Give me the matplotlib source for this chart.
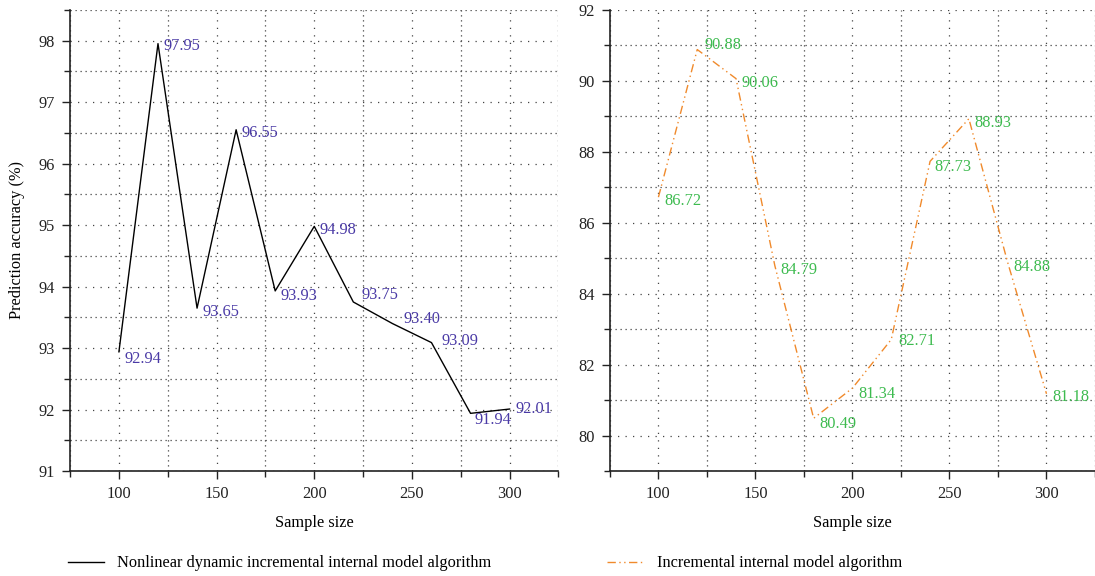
import matplotlib.pyplot as plt
from matplotlib.ticker import MultipleLocator

# data
sample_size = [100, 120, 140, 160, 180, 200, 220, 240, 260, 280, 300]
nonlinear_acc = [92.94, 97.95, 93.65, 96.55, 93.93, 94.98, 93.75, 93.40, 93.09, 91.94, 92.01]
incremental_acc = [86.72, 90.88, 90.06, 84.79, 80.49, 81.34, 82.71, 87.73, 88.93, 84.88, 81.18]

plt.rcParams['font.family'] = ['Liberation Serif', 'DejaVu Serif']
FS = 11.8

fig = plt.figure(figsize=(10.95, 5.76), dpi=100)
ax1 = fig.add_axes([0.064, 0.182, 0.446, 0.801])
ax2 = fig.add_axes([0.557, 0.182, 0.443, 0.801])


def style_axis(ax, ymin, ymax, ymajor, yminor):
    ax.set_xlim(75, 325)
    ax.set_ylim(ymin, ymax)
    ax.xaxis.set_major_locator(MultipleLocator(50))
    ax.xaxis.set_minor_locator(MultipleLocator(25))
    ax.yaxis.set_major_locator(MultipleLocator(ymajor))
    ax.yaxis.set_minor_locator(MultipleLocator(yminor))
    ax.spines['top'].set_visible(False)
    ax.spines['right'].set_visible(False)
    for s in ['left', 'bottom']:
        ax.spines[s].set_linewidth(1.2)
        ax.spines[s].set_color('#222222')
    ax.tick_params(which='major', direction='out', length=6, width=1, colors='#222222',
                   labelsize=FS, pad=5)
    ax.tick_params(which='minor', direction='out', length=4, width=1, colors='#222222')
    ax.grid(which='major', color='#444444', linestyle=(0, (1, 5)), linewidth=0.9)
    ax.grid(which='minor', color='#444444', linestyle=(0, (1, 3)), linewidth=0.9)
    ax.set_axisbelow(True)
    ax.set_xlabel('Sample size', fontsize=FS, labelpad=9)


# left panel
style_axis(ax1, 91, 98.5, 1, 0.5)
ax1.plot(sample_size, nonlinear_acc, color='black', linewidth=1,
         label='Nonlinear dynamic incremental internal model algorithm')
ax1.set_ylabel('Prediction accuracy (%)', fontsize=FS, labelpad=10)
offs1 = [(4, -5), (4, -2), (4, -3), (4, -2), (4, -4), (4, -3), (6, 5), (8, 3), (7, 1), (3, -5), (4, 0)]
for x, y, o in zip(sample_size, nonlinear_acc, offs1):
    ax1.annotate(f'{y:.2f}', (x, y), xytext=o, textcoords='offset points',
                 color='#4a3aa6', va='center', ha='left', fontsize=FS)
ax1.legend(loc='center left', bbox_to_anchor=(-0.005, -0.2), frameon=False,
           borderaxespad=0, borderpad=0, handlelength=2.2, handletextpad=0.8, fontsize=FS)

# right panel
style_axis(ax2, 79, 92, 2, 1)
ax2.plot(sample_size, incremental_acc, color='#f08a2c', linewidth=1,
         dashes=(6, 2.5, 1, 2.5, 1, 2.5), label='Incremental internal model algorithm')
offs2 = [(4, -3), (5, 3), (4, -3), (4, -3), (4, -4), (4, -4), (5, -1), (3, -4), (4, -3), (4, -3), (4, -2)]
for x, y, o in zip(sample_size, incremental_acc, offs2):
    ax2.annotate(f'{y:.2f}', (x, y), xytext=o, textcoords='offset points',
                 color='#3dbb4f', va='center', ha='left', fontsize=FS)
ax2.legend(loc='center left', bbox_to_anchor=(-0.005, -0.2), frameon=False,
           borderaxespad=0, borderpad=0, handlelength=2.2, handletextpad=0.8, fontsize=FS)

fig.savefig('out.png', dpi=100)
